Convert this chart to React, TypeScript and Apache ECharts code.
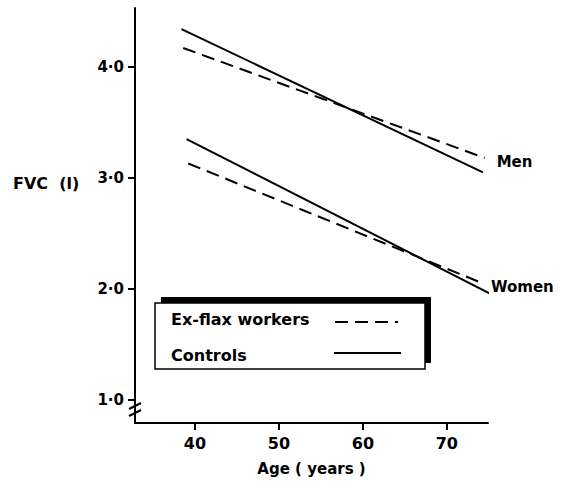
import React, { useEffect, useRef } from "react";
import * as echarts from "echarts";

const xTicks = [40, 50, 60, 70];
const yTicks = [1, 2, 3, 4];

const menExFlaxAge = [38.6, 74.5];
const menExFlaxFVC = [4.17, 3.18];
const menControlsAge = [38.4, 74.3];
const menControlsFVC = [4.34, 3.05];
const womenExFlaxAge = [39.2, 74.3];
const womenExFlaxFVC = [3.13, 2.05];
const womenControlsAge = [39.0, 75.1];
const womenControlsFVC = [3.35, 1.96];

const FONT = "DejaVu Sans";

function pts(xs: number[], ys: number[]) {
  return xs.map((x, i) => [x, ys[i]]);
}

export default function App() {
  const ref = useRef<HTMLDivElement>(null);
  useEffect(() => {
    document.body.style.margin = "0";
    const chart = echarts.init(ref.current!, null, { renderer: "svg" });
    const textStyle = { fontFamily: FONT, fontWeight: "bold" as const, fontSize: 15, color: "#000" };
    const dashed = { color: "#000", width: 2, type: [13, 7] as any };
    const solid = { color: "#000", width: 2, type: "solid" as const };
    chart.setOption({
      animation: false,
      backgroundColor: "#fff",
      grid: { left: 135, right: 73, top: 8, bottom: 59 },
      xAxis: {
        type: "value",
        min: 32.86,
        max: 74.9,
        axisLine: { show: true, lineStyle: { color: "#000", width: 2 } },
        axisTick: { show: true, customValues: xTicks, length: 7, lineStyle: { color: "#000", width: 2 } },
        axisLabel: { customValues: xTicks, margin: 12, ...textStyle, fontSize: 16 },
        splitLine: { show: false },
        name: "Age ( years )",
        nameLocation: "middle",
        nameGap: 38,
        nameTextStyle: textStyle,
      },
      yAxis: {
        type: "value",
        min: 0.793,
        max: 4.53,
        axisLine: { show: true, lineStyle: { color: "#000", width: 2 } },
        axisTick: { show: true, customValues: yTicks, length: 7, lineStyle: { color: "#000", width: 2 } },
        axisLabel: {
          customValues: yTicks,
          margin: 11,
          formatter: (v: number) => v.toFixed(1).replace(".", "·"),
          ...textStyle,
        },
        splitLine: { show: false },
      },
      series: [
        {
          type: "line", name: "Men", data: pts(menExFlaxAge, menExFlaxFVC), symbol: "none",
          lineStyle: dashed,
          endLabel: { show: true, formatter: "Men", distance: 12, offset: [0, 4], ...textStyle },
        },
        { type: "line", data: pts(menControlsAge, menControlsFVC), symbol: "none", lineStyle: solid },
        { type: "line", data: pts(womenExFlaxAge, womenExFlaxFVC), symbol: "none", lineStyle: dashed },
        {
          type: "line", name: "Women", data: pts(womenControlsAge, womenControlsFVC), symbol: "none",
          lineStyle: solid,
          endLabel: { show: true, formatter: "Women", distance: 2, offset: [0, -6], ...textStyle },
        },
      ],
      graphic: [
        { type: "text", left: 13, top: 175, style: { text: "FVC  (l)", font: `bold 16px "${FONT}"`, fill: "#000" } },
        { type: "line", shape: { x1: 129, y1: 409, x2: 141, y2: 403 }, style: { stroke: "#000", lineWidth: 2 } },
        { type: "line", shape: { x1: 129, y1: 416, x2: 141, y2: 410 }, style: { stroke: "#000", lineWidth: 2 } },
        { type: "rect", shape: { x: 161, y: 297, width: 270, height: 66 }, style: { fill: "#000" } },
        { type: "rect", shape: { x: 155, y: 303, width: 270, height: 66 }, style: { fill: "#fff", stroke: "#000", lineWidth: 1.5 } },
        { type: "text", left: 171, top: 311, style: { text: "Ex-flax workers", font: `bold 16px "${FONT}"`, fill: "#000" } },
        { type: "text", left: 171, top: 347, style: { text: "Controls", font: `bold 16px "${FONT}"`, fill: "#000" } },
        { type: "line", shape: { x1: 335, y1: 322, x2: 398, y2: 322 }, style: { stroke: "#000", lineWidth: 2, lineDash: [13, 7] } },
        { type: "line", shape: { x1: 334, y1: 353, x2: 401, y2: 353 }, style: { stroke: "#000", lineWidth: 2 } },
      ],
    });
    return () => chart.dispose();
  }, []);
  return <div ref={ref} style={{ width: 561, height: 482 }} />;
}
